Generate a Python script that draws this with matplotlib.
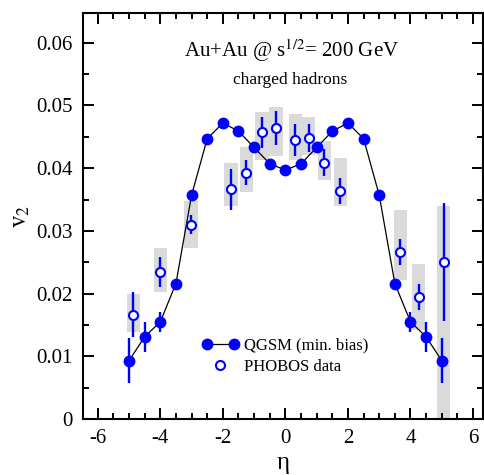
import matplotlib
matplotlib.use("Agg")
import matplotlib.pyplot as plt
from matplotlib.legend_handler import HandlerLine2D
from matplotlib.ticker import MultipleLocator

# ── Data ───────────────────────────────────────────────────────────────────────
# QGSM (min. bias) model points
eta_qgsm = [-5.0, -4.5, -4.0, -3.5, -3.0, -2.5, -2.0, -1.5, -1.0, -0.5, 0.0,
            0.5, 1.0, 1.5, 2.0, 2.5, 3.0, 3.5, 4.0, 4.5, 5.0]
v2_qgsm = [0.0093, 0.0131, 0.0155, 0.0216, 0.0357, 0.0447, 0.0472, 0.0459,
           0.0433, 0.0407, 0.0397, 0.0407, 0.0433, 0.0459, 0.0472, 0.0447,
           0.0357, 0.0216, 0.0155, 0.0131, 0.0093]
err_qgsm = [0.0036, 0.0024, 0.0016, 0.0008, 0.0008, 0.0006, 0.0006, 0.0006,
            0.0006, 0.0006, 0.0007, 0.0006, 0.0006, 0.0006, 0.0006, 0.0006,
            0.0008, 0.0008, 0.0016, 0.0024, 0.0036]

# PHOBOS data points, stat. errors and systematic bands
eta_phobos = [-4.86, -4.0, -3.02, -1.74, -1.25, -0.75, -0.30, 0.31, 0.75,
              1.25, 1.75, 3.67, 4.26, 5.06]
v2_phobos = [0.0166, 0.0235, 0.0310, 0.0366, 0.0393, 0.0457, 0.0464, 0.0445,
             0.0448, 0.0409, 0.0364, 0.0266, 0.0195, 0.0250]
err_phobos = [0.0036, 0.0024, 0.0015, 0.0032, 0.0020, 0.0025, 0.0027, 0.0025,
              0.0023, 0.0022, 0.0021, 0.0021, 0.0021, 0.0094]
sys_lo = [0.0139, 0.0203, 0.0272, 0.0340, 0.0362, 0.0413, 0.0420, 0.0413,
          0.0421, 0.0381, 0.0340, 0.0222, 0.0142, 0.0]
sys_hi = [0.0200, 0.0272, 0.0348, 0.0408, 0.0433, 0.0490, 0.0498, 0.0487,
          0.0481, 0.0443, 0.0417, 0.0333, 0.0247, 0.0340]

x_ticks = [-6, -4, -2, 0, 2, 4, 6]
x_ticklabels = ["-6", "-4", "-2", "0", "2", "4", "6"]
y_ticks = [0, 0.01, 0.02, 0.03, 0.04, 0.05, 0.06]
y_ticklabels = ["0", "0.01", "0.02", "0.03", "0.04", "0.05", "0.06"]

BLUE = "#0000ff"

# ── Style ──────────────────────────────────────────────────────────────────────
plt.rcParams["font.family"] = ["Liberation Serif", "DejaVu Serif"]
plt.rcParams["mathtext.fontset"] = "stix"
plt.rcParams["axes.unicode_minus"] = False

fig = plt.figure(figsize=(4.84, 4.75), dpi=100)
ax = fig.add_axes([0.171, 0.118, 0.827, 0.854])

# systematic bands of PHOBOS
box_h = [hi - lo for lo, hi in zip(sys_lo, sys_hi)]
ax.bar(eta_phobos, box_h, bottom=sys_lo, width=0.42, color="#dadada",
       edgecolor="none", zorder=1)

# QGSM curve + points
ax.plot(eta_qgsm, v2_qgsm, color="black", lw=0.9, zorder=2)
ax.errorbar(eta_qgsm, v2_qgsm, yerr=err_qgsm, fmt="o", color=BLUE,
            ms=7.5, elinewidth=1.7, capsize=0, zorder=3)

# PHOBOS points
ax.errorbar(eta_phobos, v2_phobos, yerr=err_phobos, fmt="o", color=BLUE,
            mfc="white", mec=BLUE, mew=1.5, ms=6.5, elinewidth=1.7,
            capsize=0, zorder=4)

# legend
h_q, = ax.plot([], [], "-o", color="black", mfc=BLUE, mec=BLUE, ms=7.5, lw=0.9)
h_p, = ax.plot([], [], "o", mfc="white", mec=BLUE, mew=1.5, ms=6.5)
ax.legend([h_q, h_p], ["QGSM (min. bias)", "PHOBOS data"],
          handler_map={h_q: HandlerLine2D(numpoints=2),
                       h_p: HandlerLine2D(numpoints=1)},
          loc="center left", bbox_to_anchor=(0.298, 0.155), frameon=False,
          fontsize=12, handlelength=2.2, handletextpad=0.3,
          borderpad=0, borderaxespad=0, labelspacing=0.3)

# annotations
ax.text(0.19, 0.05767, r"Au+Au @ s$^{1/2}$= 200 GeV", fontsize=15,
        ha="center", va="baseline")
ax.text(0.15, 0.05336, "charged hadrons", fontsize=12.5,
        ha="center", va="baseline")

# axes
ax.set_xlim(-6.48, 6.32)
ax.set_ylim(0, 0.0647)
ax.set_xticks(x_ticks)
ax.set_xticklabels(x_ticklabels)
ax.set_yticks(y_ticks)
ax.set_yticklabels(y_ticklabels)
ax.xaxis.set_minor_locator(MultipleLocator(0.5))
ax.yaxis.set_minor_locator(MultipleLocator(0.005))
ax.tick_params(which="both", direction="in", top=True, right=True,
               width=1.4, labelsize=15)
ax.tick_params(which="major", length=8, pad=7)
ax.tick_params(which="minor", length=4.5)
for s in ax.spines.values():
    s.set_linewidth(1.5)

ax.set_xlabel("η", fontsize=18, labelpad=3)
ax.set_ylabel(r"$\mathrm{v}_2$", fontsize=18, labelpad=3)

fig.savefig("out.png", dpi=100)
